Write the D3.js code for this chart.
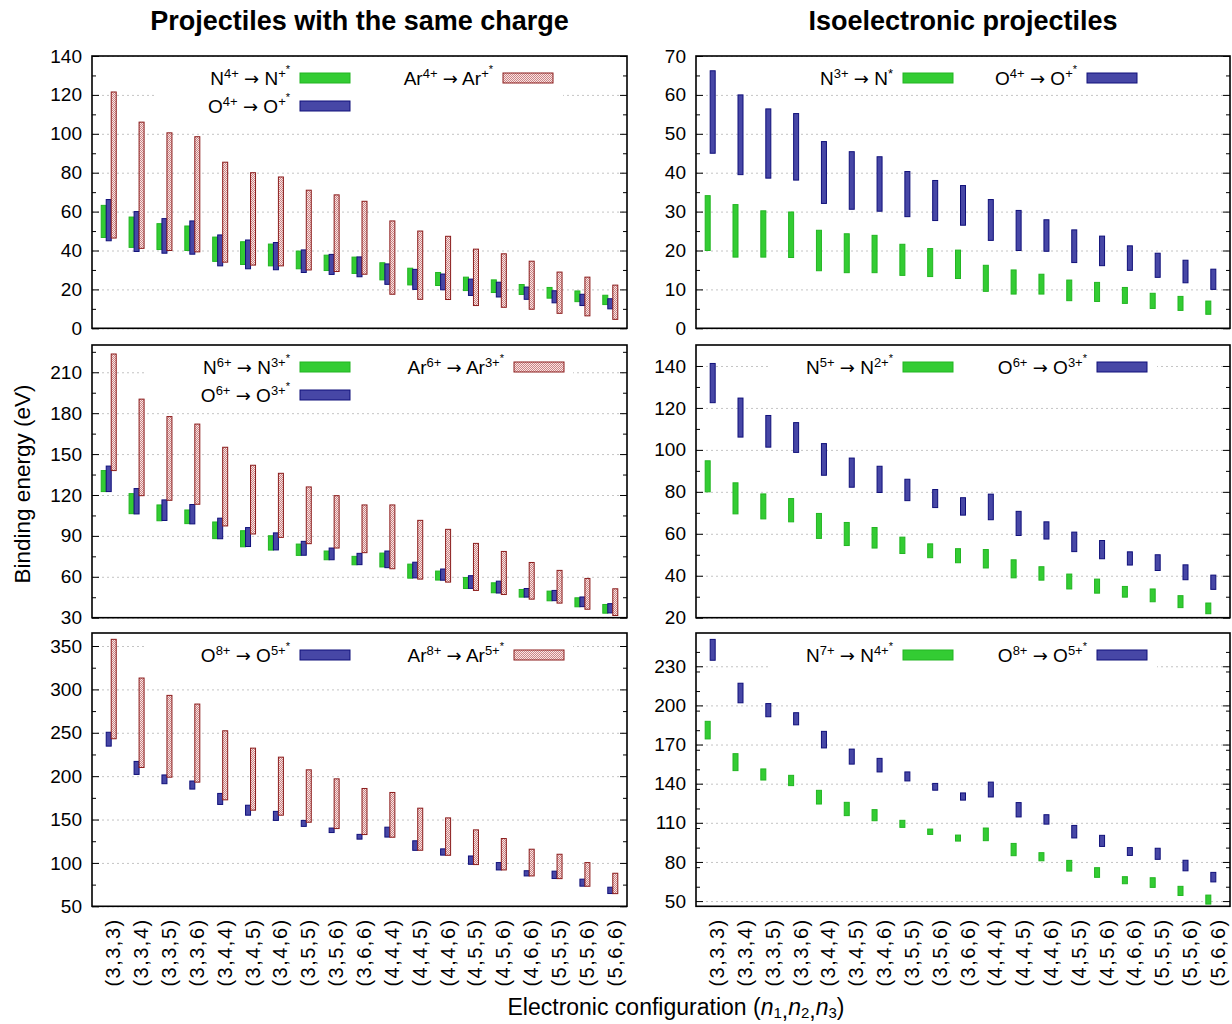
<!DOCTYPE html>
<html><head><meta charset="utf-8">
<script src="https://cdn.jsdelivr.net/npm/d3@7"></script>
<style>
body{margin:0;background:#fff}
text{font-family:"Liberation Sans",Arial,Helvetica,sans-serif;fill:#000}
</style>
</head><body><svg id="c" width="1232" height="1024"></svg>
<script>
// ---------------- data ----------------
const categories = ["(3,3,3)","(3,3,4)","(3,3,5)","(3,3,6)","(3,4,4)","(3,4,5)","(3,4,6)","(3,5,5)","(3,5,6)","(3,6,6)",
  "(4,4,4)","(4,4,5)","(4,4,6)","(4,5,5)","(4,5,6)","(4,6,6)","(5,5,5)","(5,5,6)","(5,6,6)"];

// same charge 4+
const N4_hi = [63.2,57.2,53.8,52.6,46.9,44.5,43.3,39.7,37.6,36.6,33.7,30.9,28.7,26.3,24.9,22.5,21.0,19.2,17.0];
const N4_lo = [46.7,41.6,40.5,40.0,34.4,32.8,32.1,30.6,29.7,28.2,24.9,22.3,22.0,19.4,18.4,17.4,15.5,13.7,12.2];
const O4_hi = [66.2,60.0,56.4,55.2,48.0,45.4,44.1,40.3,38.0,36.7,33.1,30.3,27.9,25.3,23.7,21.2,19.3,17.5,15.2];
const O4_lo = [45.0,39.5,38.6,38.1,32.1,30.6,30.1,28.7,27.7,26.5,22.6,20.0,19.8,16.9,16.1,14.9,13.1,11.7,10.0];
const Ar4_hi = [121.5,106.0,100.5,98.5,85.4,80.0,77.8,71.0,68.6,65.3,55.2,50.0,47.3,40.7,38.3,34.5,28.9,26.3,22.2];
const Ar4_lo = [46.4,41.1,40.0,39.3,34.0,32.5,32.1,30.0,29.2,27.8,17.5,14.9,14.8,11.7,10.8,9.8,7.7,6.4,4.6];
// isoelectronic N3+
const N3_hi = [34.1,31.8,30.2,29.9,25.2,24.3,23.9,21.6,20.5,20.1,16.2,15.0,13.9,12.4,11.8,10.5,9.0,8.2,7.0];
const N3_lo = [20.0,18.3,18.3,18.2,14.8,14.3,14.3,13.6,13.3,12.8,9.5,8.8,8.8,7.1,6.9,6.4,5.1,4.6,3.6];
// same charge 6+
const N6_hi = [137.9,121.0,112.7,109.0,100.2,93.8,90.1,84.0,78.9,75.0,77.4,69.3,64.2,59.5,55.6,50.7,49.5,44.6,39.7];
const N6_lo = [122.5,106.3,101.1,99.0,88.0,82.0,79.6,75.7,72.5,68.8,67.2,59.0,57.6,51.4,48.3,45.1,42.4,38.0,33.3];
const O6_hi = [141.2,124.7,116.4,113.0,103.0,96.1,92.2,86.0,81.1,77.2,78.9,70.7,65.7,60.8,56.8,51.4,50.0,45.2,40.3];
const O6_lo = [122.5,106.1,101.3,98.8,87.9,82.2,79.7,75.8,72.5,68.9,66.7,59.2,57.5,51.5,48.1,45.1,42.5,38.1,33.5];
const Ar6_hi = [223.4,190.3,177.5,172.0,155.0,141.8,135.9,125.9,119.5,112.7,112.7,101.4,94.8,84.5,78.6,70.5,64.7,58.8,51.2];
const Ar6_lo = [137.9,119.5,116.1,113.2,97.3,91.4,88.9,84.3,81.1,77.7,65.9,58.3,56.1,50.0,47.0,43.6,40.7,36.2,31.6];
// isoelectronic N5+
const N5_hi = [94.8,84.3,79.0,76.8,69.7,65.4,63.0,58.4,55.2,52.9,52.5,47.6,44.3,40.8,38.4,34.9,33.7,30.5,27.0];
const N5_lo = [80.0,69.5,67.1,65.7,57.8,54.4,53.2,50.6,48.6,46.2,43.7,39.0,37.9,33.7,31.7,29.8,27.6,24.8,21.9];
// same charge 8+
const O8_hi = [250.6,217.0,201.4,194.4,180.1,166.5,159.4,149.0,140.2,132.9,141.2,125.5,116.2,108.0,100.4,91.0,90.5,81.3,72.0];
const O8_lo = [234.6,202.0,191.3,185.1,167.4,155.0,149.0,142.1,135.0,127.4,129.8,114.5,109.0,98.4,91.9,85.0,82.0,73.2,64.7];
const Ar8_hi = [357.7,313.1,293.1,283.1,252.3,232.3,221.9,207.3,196.9,185.8,181.2,163.1,151.9,138.1,128.1,115.8,110.0,100.4,88.1];
const Ar8_lo = [243.1,210.0,198.8,193.1,172.7,160.8,155.0,146.9,139.6,132.7,129.6,114.6,108.8,98.1,91.9,85.0,81.9,73.1,64.6];
// isoelectronic N7+
const N7_hi = [187.8,163.0,151.3,146.4,134.9,125.7,120.1,111.9,105.2,100.6,106.0,94.2,87.1,81.2,75.6,68.7,67.9,61.3,54.6];
const N7_lo = [174.3,150.0,142.8,138.5,124.4,115.5,111.6,106.5,101.1,96.0,96.3,84.8,80.9,73.0,68.2,63.3,60.5,54.3,47.7];

// tick labels
const yTicksA = [0,20,40,60,80,100,120,140];
const yTicksB = [0,10,20,30,40,50,60,70];
const yTicksC = [30,60,90,120,150,180,210];
const yTicksD = [20,40,60,80,100,120,140];
const yTicksE = [50,100,150,200,250,300,350];
const yTicksF = [50,80,110,140,170,200,230];

const colTitles = ["Projectiles with the same charge","Isoelectronic projectiles"];

// ---------------- drawing ----------------
const svg = d3.select("#c");
const defs = svg.append("defs");
const pat = defs.append("pattern").attr("id","chk").attr("width",2).attr("height",2).attr("patternUnits","userSpaceOnUse");
pat.append("rect").attr("width",2).attr("height",2).attr("fill","#f7e6e6");
pat.append("rect").attr("width",1).attr("height",1).attr("fill","#cd8484");
pat.append("rect").attr("x",1).attr("y",1).attr("width",1).attr("height",1).attr("fill","#cd8484");

const STY = {
  N:  {fill:"#33cc33", stroke:"#22b522", off:-5},
  O:  {fill:"#4747a6", stroke:"#10107a", off:0},
  Ar: {fill:"url(#chk)", stroke:"#8b1c1c", off:5}
};

const cols = [{x0:92,x1:627},{x0:696,x1:1230}];
const rows = [{y0:56,y1:328.3},{y0:345,y1:617.7},{y0:633,y1:906.3}];

// label segments: [text, level]; level 3 = arrow
const sup = (el, c1, c2) => [[el,0],[c1,1],[" ",0],["\u2192",3],[" "+el,0]].concat(c2 ? [[c2,1],["*",2]] : [["*",1]]);

const panels = [
  {c:0,r:0,dom:[0,140],ticks:yTicksA,minorStep:10,
   series:[{k:"N",lo:N4_lo,hi:N4_hi},{k:"O",lo:O4_lo,hi:O4_hi},{k:"Ar",lo:Ar4_lo,hi:Ar4_hi}],
   legend:[{k:"N",sx:208,row:0,lab:sup("N","4+","+")},{k:"O",sx:208,row:1,lab:sup("O","4+","+")},{k:"Ar",sx:411,row:0,lab:sup("Ar","4+","+")}],
   box:[63,471],nrows:2},
  {c:1,r:0,dom:[0,70],ticks:yTicksB,minorStep:5,
   series:[{k:"N",lo:N3_lo,hi:N3_hi},{k:"O",lo:O4_lo,hi:O4_hi}],
   legend:[{k:"N",sx:207,row:0,lab:sup("N","3+",null)},{k:"O",sx:391,row:0,lab:sup("O","4+","+")}],
   box:[82,450],nrows:1},
  {c:0,r:1,dom:[30,230],ticks:yTicksC,minorStep:15,
   series:[{k:"N",lo:N6_lo,hi:N6_hi},{k:"O",lo:O6_lo,hi:O6_hi},{k:"Ar",lo:Ar6_lo,hi:Ar6_hi}],
   legend:[{k:"N",sx:208,row:0,lab:sup("N","6+","3+")},{k:"O",sx:208,row:1,lab:sup("O","6+","3+")},{k:"Ar",sx:422,row:0,lab:sup("Ar","6+","3+")}],
   box:[54,481],nrows:2},
  {c:1,r:1,dom:[20,150],ticks:yTicksD,minorStep:10,
   series:[{k:"N",lo:N5_lo,hi:N5_hi},{k:"O",lo:O6_lo,hi:O6_hi}],
   legend:[{k:"N",sx:207,row:0,lab:sup("N","5+","2+")},{k:"O",sx:401,row:0,lab:sup("O","6+","3+")}],
   box:[72,461],nrows:1},
  {c:0,r:2,dom:[50,365],ticks:yTicksE,minorStep:25,
   series:[{k:"O",lo:O8_lo,hi:O8_hi},{k:"Ar",lo:Ar8_lo,hi:Ar8_hi}],
   legend:[{k:"O",sx:208,row:0,lab:sup("O","8+","5+")},{k:"Ar",sx:422,row:0,lab:sup("Ar","8+","5+")}],
   box:[54,481],nrows:1},
  {c:1,r:2,dom:[46,255.5],ticks:yTicksF,minorStep:15,
   series:[{k:"N",lo:N7_lo,hi:N7_hi},{k:"O",lo:O8_lo,hi:O8_hi}],
   legend:[{k:"N",sx:207,row:0,lab:sup("N","7+","4+")},{k:"O",sx:401,row:0,lab:sup("O","8+","5+")}],
   box:[72,461],nrows:1}
];

function rich(sel, segs){
  const raise=[0,7,12,0], fs=[19,13,11,18];
  let cur=0;
  segs.forEach(([t,l])=>{
    const ts = sel.append("tspan").attr("dy", -(raise[l]-cur)).attr("font-size", fs[l]).text(t);
    if (l===3) ts.attr("font-family","DejaVu Sans");
    cur=raise[l];
  });
}

panels.forEach(p=>{
  const {x0,x1} = cols[p.c], {y0,y1} = rows[p.r];
  const W = x1-x0, H = y1-y0;
  const g = svg.append("g").attr("transform",`translate(${x0},${y0})`);
  const x = d3.scaleLinear().domain([-0.6,18.6]).range([0,W]);
  const y = d3.scaleLinear().domain(p.dom).range([H,0]);

  // grid
  g.append("g").call(d3.axisLeft(y).tickValues(p.ticks).tickSize(-W).tickFormat(""))
    .call(s=>s.select(".domain").remove())
    .call(s=>s.selectAll("line").attr("stroke","#c4c4c4").attr("stroke-dasharray","2,3").attr("stroke-width",1));

  // legend opaque box
  const rowY = r => 22 + r*28;
  g.append("rect").attr("x",p.box[0]).attr("y",1).attr("width",p.box[1]-p.box[0])
    .attr("height",rowY(p.nrows-1)+14).attr("fill","#fff");

  // bars
  p.series.forEach(s=>{
    const st = STY[s.k];
    g.append("g").selectAll("rect").data(categories).join("rect")
      .attr("x",(d,i)=>x(i)+st.off-2.5).attr("width",5)
      .attr("y",(d,i)=>y(s.hi[i])).attr("height",(d,i)=>y(s.lo[i])-y(s.hi[i]))
      .attr("fill",st.fill).attr("stroke",st.stroke).attr("stroke-width",1);
  });

  // legend
  p.legend.forEach(L=>{
    const st = STY[L.k], cy = rowY(L.row);
    g.append("rect").attr("x",L.sx).attr("y",cy-5).attr("width",50).attr("height",10)
      .attr("fill",st.fill).attr("stroke",st.stroke).attr("stroke-width",1);
    const t = g.append("text").attr("x",L.sx-10).attr("y",cy+7).attr("text-anchor","end").attr("font-size",19);
    rich(t, L.lab);
  });

  // minor ticks
  const minors = d3.range(p.dom[0], p.dom[1]+0.001, p.minorStep).filter(v=>!p.ticks.includes(v) && v>p.dom[0] && v<p.dom[1]);
  g.append("g").call(d3.axisLeft(y).tickValues(minors).tickSize(-4).tickFormat(""))
    .call(s=>s.select(".domain").remove()).selectAll("line").attr("stroke","#000");
  g.append("g").attr("transform",`translate(${W},0)`).call(d3.axisRight(y).tickValues(minors).tickSize(-4).tickFormat(""))
    .call(s=>s.select(".domain").remove()).selectAll("line").attr("stroke","#000");
  // major ticks
  const yl = g.append("g").call(d3.axisLeft(y).tickValues(p.ticks).tickSize(-7).tickPadding(10).tickFormat(d3.format("d")));
  yl.select(".domain").remove();
  yl.selectAll("text").attr("font-size",19).attr("font-family","Liberation Sans, Arial, sans-serif").attr("fill","#000");
  g.append("g").attr("transform",`translate(${W},0)`).call(d3.axisRight(y).tickValues(p.ticks).tickSize(-7).tickFormat(""))
    .call(s=>s.select(".domain").remove());

  // frame
  g.append("rect").attr("width",W).attr("height",H).attr("fill","none").attr("stroke","#000").attr("stroke-width",1.6);

  // x labels on bottom row
  if (p.r===2){
    const xa = g.append("g").attr("transform",`translate(0,${H})`)
      .call(d3.axisBottom(x).tickValues(d3.range(categories.length)).tickSize(0).tickFormat(i=>categories[i]));
    xa.select(".domain").remove();
    xa.selectAll("text").attr("font-size",20).attr("letter-spacing","1.5px")
      .attr("font-family","Liberation Sans, Arial, sans-serif").attr("fill","#000")
      .attr("text-anchor","end").attr("dy",null).attr("y",0)
      .attr("transform","translate(4,12) rotate(-90)").attr("dominant-baseline","central");
  }
});

// titles
colTitles.forEach((t,i)=>{
  svg.append("text").attr("x",(cols[i].x0+cols[i].x1)/2).attr("y",30).attr("text-anchor","middle")
    .attr("font-size",27).attr("font-weight","bold").text(t);
});
// y label
svg.append("text").attr("transform","translate(30,484) rotate(-90)").attr("text-anchor","middle")
  .attr("font-size",22.5).text("Binding energy (eV)");
// x label
const xl = svg.append("text").attr("x",676).attr("y",1015).attr("text-anchor","middle").attr("font-size",23);
xl.append("tspan").text("Electronic configuration (");
[1,2,3].forEach((k,j)=>{
  xl.append("tspan").attr("font-style","italic").attr("dy", j===0?0:-3).text("n");
  xl.append("tspan").attr("font-size",15).attr("dy",3).text(k);
  xl.append("tspan").attr("dy",0).text(j<2?",":"");
});
xl.append("tspan").attr("dy",-3).text(")");
</script>
</body></html>
